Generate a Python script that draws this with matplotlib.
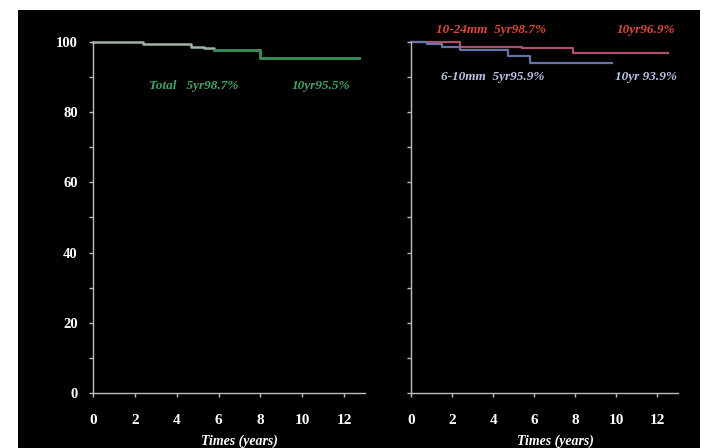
import matplotlib
matplotlib.use("Agg")
import matplotlib.pyplot as plt
from matplotlib.ticker import MultipleLocator

# Kaplan-Meier survival (%) by follow-up time (years)
total_t = [0, 2.4, 4.7, 5.3, 5.8, 8.0, 12.7]
total_s = [100, 99.4, 98.7, 98.2, 97.7, 95.5, 95.5]

large_t = [0, 2.4, 5.4, 7.9, 12.5]          # 10-24mm
large_s = [100, 98.7, 98.2, 96.9, 96.9]

small_t = [0, 0.8, 1.5, 2.4, 4.7, 5.8, 9.8]  # 6-10mm
small_s = [100, 99.3, 98.5, 97.7, 95.9, 93.9, 93.9]

total_rates = {"5yr": 98.7, "10yr": 95.5}
large_rates = {"5yr": 98.7, "10yr": 96.9}
small_rates = {"5yr": 95.9, "10yr": 93.9}

x_ticks = [0, 2, 4, 6, 8, 10, 12]
y_ticks = [0, 20, 40, 60, 80, 100]

W, H = 713, 448
fig = plt.figure(figsize=(W / 100, H / 100), dpi=100, facecolor="white")

# black slide background with a thin white margin
bg = fig.add_axes([18 / W, 0, (700 - 18) / W, 1 - 10 / H], zorder=-5)
bg.set_facecolor("black")
bg.set_xticks([])
bg.set_yticks([])
for s in bg.spines.values():
    s.set_visible(False)

serif = "Liberation Serif"
axis_col = "#bdbdbd"

def style_axes(ax, show_ylabels):
    ax.patch.set_alpha(0)
    for s in ("top", "right"):
        ax.spines[s].set_visible(False)
    for s in ("left", "bottom"):
        ax.spines[s].set_color(axis_col)
        ax.spines[s].set_linewidth(1.0)
    ax.set_xlim(0, 13)
    ax.set_ylim(0, 100)
    ax.set_xticks(x_ticks)
    ax.set_yticks(y_ticks)
    ax.yaxis.set_minor_locator(MultipleLocator(10))
    ax.tick_params(axis="x", colors=axis_col, length=3, width=1, pad=12,
                   labelcolor="white", labelsize=11)
    ax.tick_params(axis="y", which="both", colors=axis_col, length=3, width=1,
                   pad=8, labelcolor="white", labelsize=10.5,
                   labelleft=show_ylabels)
    for lbl in ax.get_xticklabels() + ax.get_yticklabels():
        lbl.set_fontfamily(serif)
        lbl.set_fontweight("bold")
    ax.set_xlabel("Times (years)", family=serif, fontweight="bold",
                  style="italic", color="white", fontsize=10)
    ax.xaxis.set_label_coords(0.54, -0.117)

axL = fig.add_axes([93 / W, 55 / H, 272 / W, 351 / H])
axR = fig.add_axes([411 / W, 55 / H, 267 / W, 351 / H])
style_axes(axL, True)
style_axes(axR, False)

txt = dict(family=serif, fontweight="bold", style="italic", fontsize=9.5,
           ha="center", va="center", clip_on=False)

# Left: all aneurysms
axL.plot(total_t, total_s, drawstyle="steps-post", color="#9fb5a6",
         lw=1.8, clip_on=False)
axL.plot(total_t[-3:], total_s[-3:], drawstyle="steps-post", color="#2e8b50",
         lw=1.8, clip_on=False)
axL.text(4.8, 87.6, f"Total   5yr{total_rates['5yr']}%", color="#3fa565", **txt)
axL.text(10.9, 87.6, f"10yr{total_rates['10yr']}%", color="#3fa565", **txt)

# Right: by aneurysm size
axR.plot(large_t, large_s, drawstyle="steps-post", color="#b0506a",
         lw=1.6, clip_on=False)
axR.plot(small_t, small_s, drawstyle="steps-post", color="#6674a8",
         lw=1.6, clip_on=False)
axR.text(3.9, 103.4, f"10-24mm  5yr{large_rates['5yr']}%", color="#e04838", **txt)
axR.text(11.45, 103.4, f"10yr{large_rates['10yr']}%", color="#e04838", **txt)
axR.text(4.0, 90.0, f"6-10mm  5yr{small_rates['5yr']}%", color="#b8c6e6", **txt)
axR.text(11.45, 90.0, f"10yr {small_rates['10yr']}%", color="#b8c6e6", **txt)

fig.savefig("out.png", dpi=100, facecolor=fig.get_facecolor())
